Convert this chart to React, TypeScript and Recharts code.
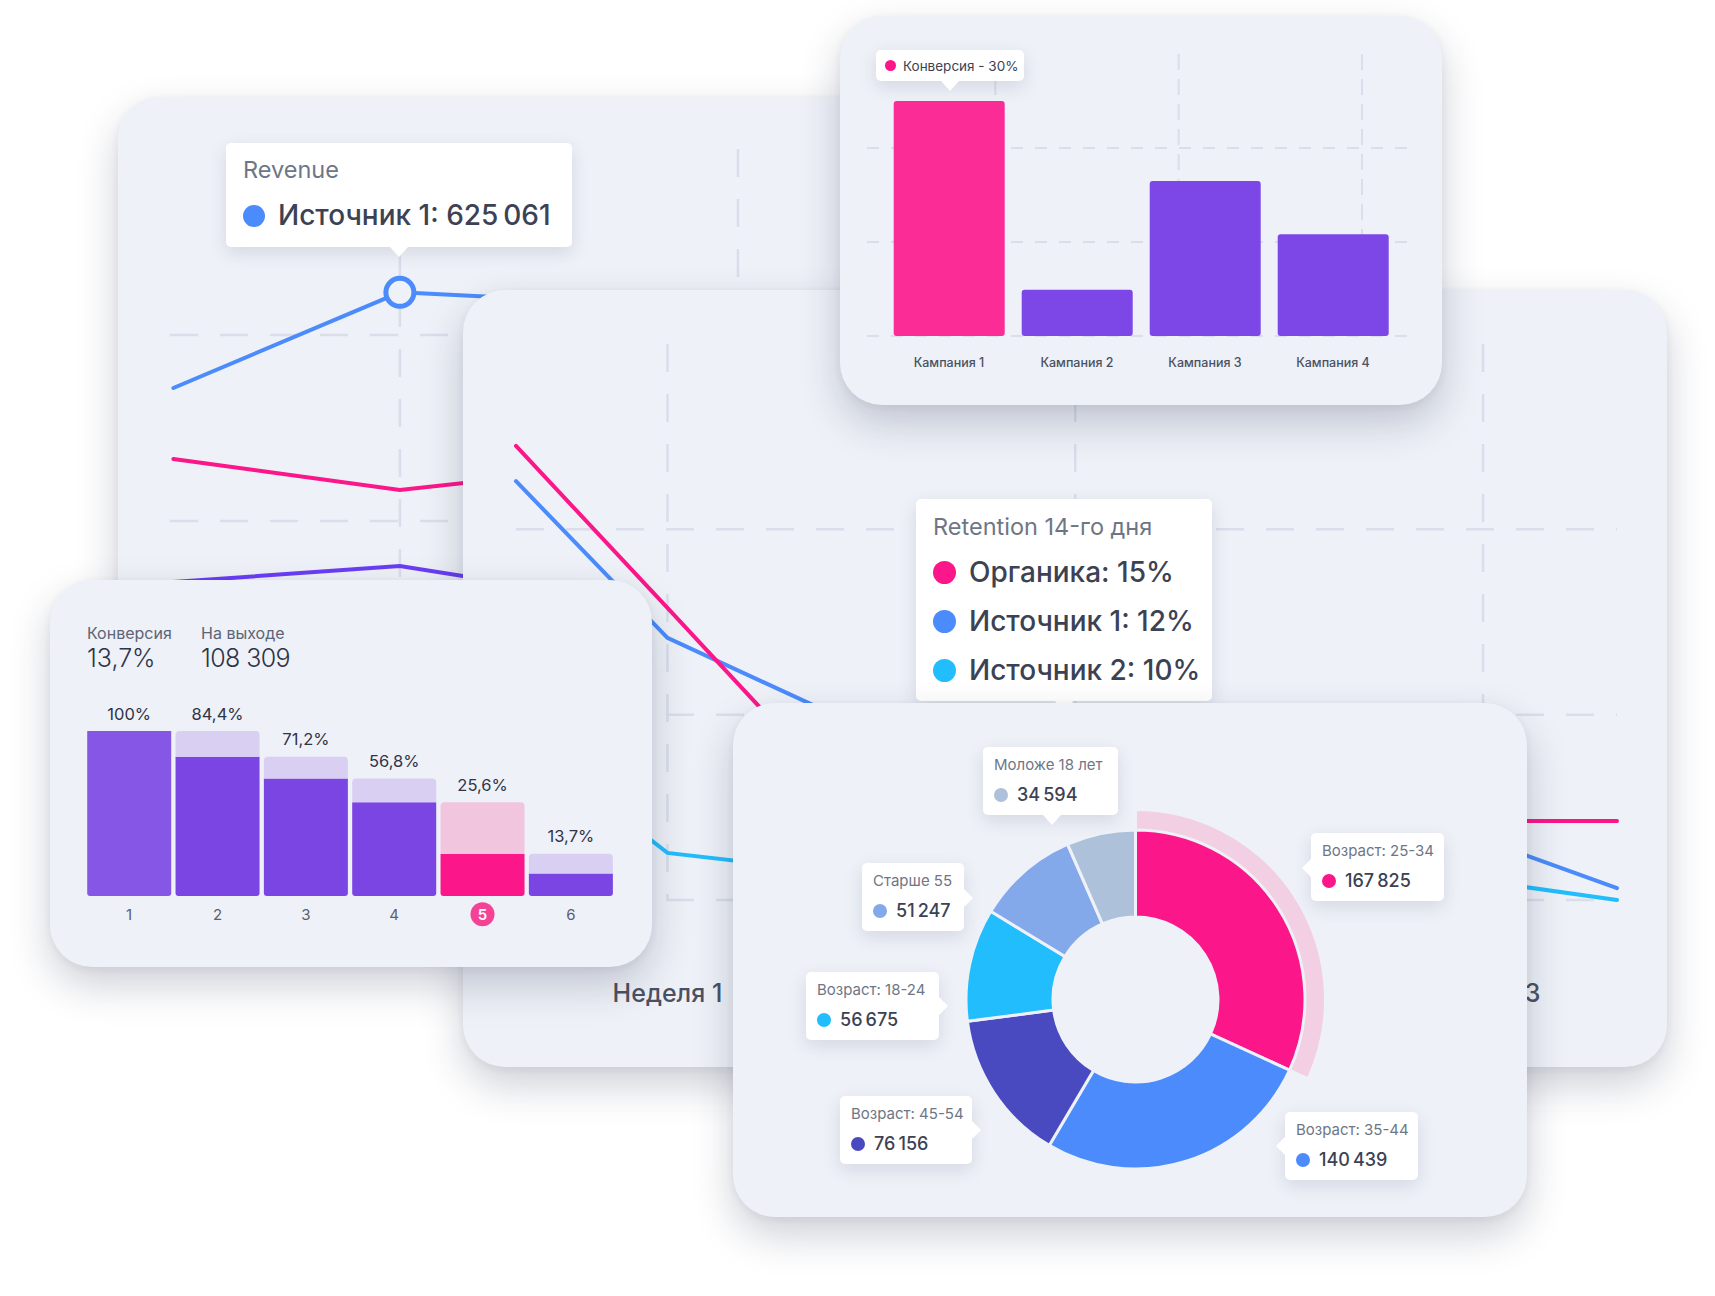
import React from "react"
import {
  LineChart,
  Line,
  BarChart,
  Bar,
  PieChart,
  Pie,
  Cell,
  XAxis,
  YAxis,
  CartesianGrid,
  LabelList,
} from "recharts"

// Revenue (back card): period -> revenue
const revenuePeriods = [0.33, 1, 2]
const revenueSource1 = [501600, 625061, 603500]
const revenueOrganic = [410000, 370000, 417700]
const revenueSource2 = [251300, 271900, 202600]
const revenueGrid = [330000, 570000]
const revenueGridX = [1, 2]

// Retention (middle card): day -> %
const weekDays = [7, 14, 21]
const weekLabels = ["Неделя 1", "Неделя 2", "Неделя 3"]
const organicDays = [4.4, 7, 9, 14, 21, 23.3]
const organicRetention = [22.25, 17.88, 14.5, 15, 12.13, 12.13]
const sourceDays = [4.4, 7, 14, 21, 23.3]
const source1Retention = [21.3, 17.07, 12, 11.62, 10.32]
const source2Retention = [14.45, 11.27, 10, 10.51, 10.0]
const retentionGrid = [10, 15, 20]

// Campaign conversion (top card)
const campaigns = ["Кампания 1", "Кампания 2", "Кампания 3", "Кампания 4"]
const campaignConversion = [30, 5.9, 19.8, 13]
const campaignGrid = [0, 12, 24]
const campaignGridX = [0.7, 1.7, 2.7]

// Funnel
const funnelSteps = ["1", "2", "3", "4", "5", "6"]
const funnelShare = [100, 84.4, 71.2, 56.8, 25.6, 13.7]
const funnelHot = "5"

// Audience by age
const ageGroups = ["Возраст: 25-34", "Возраст: 35-44", "Возраст: 45-54", "Возраст: 18-24", "Старше 55", "Моложе 18 лет"]
const ageVisitors = [167825, 140439, 76156, 56675, 51247, 34594]

const CARD_BG = "#eef1f7"
const GRID = "#d9deea"
const TEXT = "#3c4254"
const MUTED = "#6e7686"
const PINK = "#fb1689"
const BLUE = "#4b8bfb"
const CYAN = "#22bdfd"
const VIOLET = "#6a3df5"
const PURPLE = "#7b45e3"
const LILAC = "#d9cff2"
const PINK_LIGHT = "#f2c5df"
const AGE_COLORS = [PINK, BLUE, "#4a4ac0", CYAN, "#84a9eb", "#adc2da"]

const A = { x: 118, y: 97, w: 1182, h: 803 }
const B = { x: 463, y: 290, w: 1204, h: 777 }
const C = { x: 840, y: 16, w: 602, h: 389 }
const D = { x: 50, y: 580, w: 602, h: 387 }
const E = { x: 733, y: 703, w: 794, h: 514 }

const thin = (n: number) => String(n).replace(/\B(?=(\d{3})+(?!\d))/g, "\u2009")

function Card({ box, children }: any) {
  return (
    <div
      style={{
        position: "absolute",
        left: box.x,
        top: box.y,
        width: box.w,
        height: box.h,
        borderRadius: 42,
        background: CARD_BG,
        boxShadow: "0 18px 40px rgba(30,40,75,0.22), 0 2px 8px rgba(30,40,75,0.06)",
        overflow: "hidden",
      }}
    >
      {children}
    </div>
  )
}

function Bubble({ left, top, width, height, pointer, at, children }: any) {
  const tri: React.CSSProperties = { position: "absolute", width: 0, height: 0 }
  if (pointer === "down")
    Object.assign(tri, { left: at - 9, top: height, borderLeft: "9px solid transparent", borderRight: "9px solid transparent", borderTop: "10px solid #fff" })
  if (pointer === "left")
    Object.assign(tri, { left: -9, top: at - 9, borderTop: "9px solid transparent", borderBottom: "9px solid transparent", borderRight: "9px solid #fff" })
  if (pointer === "right")
    Object.assign(tri, { left: width, top: at - 9, borderTop: "9px solid transparent", borderBottom: "9px solid transparent", borderLeft: "9px solid #fff" })
  return (
    <div
      style={{
        position: "absolute",
        left,
        top,
        width,
        height,
        background: "#fff",
        borderRadius: 5,
        boxShadow: "0 6px 18px rgba(40,50,90,0.13)",
      }}
    >
      <div style={tri} />
      {children}
    </div>
  )
}

function Txt({ left, center, size, lh, color = TEXT, weight = 400, spacing = 0, children }: any) {
  return (
    <div
      style={{
        position: "absolute",
        left,
        top: center - lh / 2,
        fontSize: size,
        lineHeight: `${lh}px`,
        color,
        fontWeight: weight,
        letterSpacing: spacing,
        whiteSpace: "nowrap",
      }}
    >
      {children}
    </div>
  )
}

function Dot({ cx, cy, r, color }: any) {
  return <div style={{ position: "absolute", left: cx - r, top: cy - r, width: r * 2, height: r * 2, borderRadius: r, background: color }} />
}

// ---------- Revenue ----------
function RevenueCard() {
  const data = revenuePeriods.map((p, i) => ({
    p,
    s1: revenueSource1[i],
    org: revenueOrganic[i],
    s2: revenueSource2[i],
  }))
  return (
    <Card box={A}>
      <LineChart width={A.w} height={A.h} data={data} margin={{ top: 52, right: 224, bottom: 193, left: 52 }}>
        <XAxis dataKey="p" type="number" domain={[0.32, 3]} hide />
        <YAxis type="number" domain={[90000, 810000]} hide />
        <CartesianGrid
          horizontalValues={revenueGrid}
          verticalValues={revenueGridX}
          stroke={GRID}
          strokeWidth={2.5}
          strokeDasharray="28 22"
        />
        <Line dataKey="s2" stroke={VIOLET} strokeWidth={4} strokeLinecap="round" dot={false} isAnimationActive={false} />
        <Line dataKey="org" stroke={PINK} strokeWidth={4} strokeLinecap="round" dot={false} isAnimationActive={false} />
        <Line
          dataKey="s1"
          stroke={BLUE}
          strokeWidth={4}
          strokeLinecap="round"
          isAnimationActive={false}
          dot={(p: any) =>
            p.index === 1 ? (
              <circle key="active" cx={p.cx} cy={p.cy} r={14} fill={CARD_BG} stroke={BLUE} strokeWidth={5} />
            ) : (
              <g key={p.index} />
            )
          }
        />
      </LineChart>
      <Bubble left={226 - A.x} top={143 - A.y} width={346} height={104} pointer="down" at={399 - 226}>
        <Txt left={17} center={27} size={23.5} lh={28} color={MUTED}>Revenue</Txt>
        <Dot cx={28} cy={73} r={11} color={BLUE} />
        <Txt left={52} center={72} size={28} lh={34} weight={500}>
          Источник 1: {thin(625061)}
        </Txt>
      </Bubble>
    </Card>
  )
}

// ---------- Retention ----------
const WeekTick = ({ x, y, payload }: any) => (
  <text x={x} y={y + 101.5} textAnchor="middle" fontSize={25} fontWeight={500} fill="#4a5163" fontFamily="Inter">
    {weekLabels[weekDays.indexOf(payload.value)]}
  </text>
)

function RetentionCard() {
  const organic = organicDays.map((day, i) => ({ day, v: organicRetention[i] }))
  const s1 = sourceDays.map((day, i) => ({ day, v: source1Retention[i] }))
  const s2 = sourceDays.map((day, i) => ({ day, v: source2Retention[i] }))
  return (
    <Card box={B}>
      <LineChart width={B.w} height={B.h} margin={{ top: 54, right: 50, bottom: 137, left: 53 }}>
        <XAxis
          dataKey="day"
          type="number"
          domain={[4.4, 23.3]}
          ticks={weekDays}
          axisLine={false}
          tickLine={false}
          tickSize={0}
          tickMargin={0}
          height={30}
          tick={<WeekTick />}
        />
        <YAxis type="number" domain={[10, 25]} hide />
        <CartesianGrid
          horizontalValues={retentionGrid}
          verticalValues={weekDays}
          stroke={GRID}
          strokeWidth={2.5}
          strokeDasharray="28 22"
        />
        <Line data={s2} dataKey="v" stroke={CYAN} strokeWidth={4} strokeLinecap="round" dot={false} isAnimationActive={false} />
        <Line data={s1} dataKey="v" stroke={BLUE} strokeWidth={4} strokeLinecap="round" dot={false} isAnimationActive={false} />
        <Line data={organic} dataKey="v" stroke={PINK} strokeWidth={4} strokeLinecap="round" dot={false} isAnimationActive={false} />
      </LineChart>
      <Bubble left={916 - B.x} top={499 - B.y} width={296} height={202} pointer="down" at={1064 - 916}>
        <Txt left={17} center={28} size={23.5} lh={28} color={MUTED}>Retention 14-го дня</Txt>
        <Dot cx={28.5} cy={73} r={11.5} color={PINK} />
        <Txt left={53} center={73} size={28} lh={34} weight={500}>Органика: 15%</Txt>
        <Dot cx={28.5} cy={122} r={11.5} color={BLUE} />
        <Txt left={53} center={122} size={28} lh={34} weight={500}>Источник 1: 12%</Txt>
        <Dot cx={28.5} cy={171} r={11.5} color={CYAN} />
        <Txt left={53} center={171} size={28} lh={34} weight={500}>Источник 2: 10%</Txt>
      </Bubble>
    </Card>
  )
}

// ---------- Campaigns ----------
const CampaignTick = ({ x, y, payload }: any) => (
  <text x={x} y={y + 31.3} textAnchor="middle" fontSize={12.5} fontWeight={500} fill="#4a5163" fontFamily="Inter">
    {payload.value}
  </text>
)

function CampaignCard() {
  const data = campaigns.map((name, i) => ({ name, conversion: campaignConversion[i] }))
  return (
    <Card box={C}>
      <BarChart width={C.w} height={C.h} data={data} margin={{ top: 38, right: 25, bottom: 39, left: 27 }} barCategoryGap="6.8%">
        <XAxis
          dataKey="name"
          padding={{ left: 18, right: 20 }}
          axisLine={false}
          tickLine={false}
          tickSize={0}
          tickMargin={0}
          height={30}
          interval={0}
          tick={<CampaignTick />}
        />
        <XAxis xAxisId="grid" type="number" domain={[0, 3.3]} hide />
        <YAxis type="number" domain={[0, 36]} hide />
        <CartesianGrid vertical={false} horizontalValues={campaignGrid} stroke={GRID} strokeWidth={2} strokeDasharray="12 12" />
        <CartesianGrid
          horizontal={false}
          xAxisId="grid"
          verticalValues={campaignGridX}
          stroke={GRID}
          strokeWidth={2}
          strokeDasharray="16 9"
        />
        <Bar dataKey="conversion" radius={3} isAnimationActive={false}>
          {data.map((d, i) => (
            <Cell key={d.name} fill={i === 0 ? "#fb2c96" : "#7d47e8"} />
          ))}
        </Bar>
      </BarChart>
      <Bubble left={876 - C.x} top={50 - C.y} width={148} height={31} pointer="down" at={950 - 876}>
        <Dot cx={14} cy={15.5} r={5.5} color={PINK} />
        <Txt left={27} center={15.8} size={13.5} lh={20}>Конверсия - 30%</Txt>
      </Bubble>
    </Card>
  )
}

// ---------- Funnel ----------
const FunnelTick = ({ x, y, payload }: any) => {
  const hot = payload.value === funnelHot
  return (
    <g>
      {hot && <circle cx={x} cy={y + 18.3} r={12} fill="#f44395" />}
      <text
        x={x}
        y={y + 24}
        textAnchor="middle"
        fontSize={15}
        fontWeight={hot ? 600 : 400}
        fill={hot ? "#fff" : "#5a6072"}
        fontFamily="Inter"
      >
        {payload.value}
      </text>
    </g>
  )
}

// label sits above the whole stack (previous step's share)
const FunnelLabel = (props: any) => {
  const { x, y, width, height, index } = props
  const share = funnelShare[index]
  const prev = index === 0 ? funnelShare[0] : funnelShare[index - 1]
  const top = y - (height * (prev - share)) / share
  return (
    <text x={x + width / 2} y={top - 11.5} textAnchor="middle" fontSize={16.5} fill="#2f3447" fontFamily="Inter">
      {String(share).replace(".", ",")}%
    </text>
  )
}

function FunnelCard() {
  const data = funnelSteps.map((step, i) => ({
    step,
    share: funnelShare[i],
    lost: (i === 0 ? funnelShare[0] : funnelShare[i - 1]) - funnelShare[i],
  }))
  return (
    <Card box={D}>
      <Txt left={37} center={53} size={16} lh={20} color="#5d6475">Конверсия</Txt>
      <Txt left={37} center={78} size={25} lh={30} color="#2f3447" weight={300}>13,7%</Txt>
      <Txt left={151} center={53} size={16} lh={20} color="#5d6475">На выходе</Txt>
      <Txt left={151} center={78} size={25} lh={30} color="#2f3447" weight={300} spacing={-0.6}>108 309</Txt>
      <div style={{ position: "absolute", left: 0, top: 0 }}>
        <BarChart width={D.w} height={D.h} data={data} margin={{ top: 151, right: 37, bottom: 41, left: 35 }} barCategoryGap="2.5%">
          <XAxis
            dataKey="step"
            axisLine={false}
            tickLine={false}
            tickSize={0}
            tickMargin={0}
            height={30}
            interval={0}
            tick={<FunnelTick />}
          />
          <YAxis type="number" domain={[0, 100]} hide />
          <Bar dataKey="share" stackId="f" radius={[0, 0, 3, 3]} isAnimationActive={false}>
            {data.map((d, i) => (
              <Cell key={d.step} fill={d.step === funnelHot ? PINK : i === 0 ? "#8656e6" : PURPLE} />
            ))}
            <LabelList dataKey="share" content={<FunnelLabel />} />
          </Bar>
          <Bar dataKey="lost" stackId="f" radius={[4, 4, 0, 0]} isAnimationActive={false}>
            {data.map((d) => (
              <Cell key={d.step} fill={d.step === funnelHot ? PINK_LIGHT : LILAC} />
            ))}
          </Bar>
        </BarChart>
      </div>
    </Card>
  )
}

// ---------- Age donut ----------
const ageCallouts = [
  { left: 578, top: 130, width: 133, pointer: "left", at: 35 },
  { left: 552, top: 409, width: 133, pointer: "left", at: 34 },
  { left: 107, top: 393, width: 132, pointer: "right", at: 34 },
  { left: 73, top: 269, width: 133, pointer: "right", at: 34 },
  { left: 129, top: 160, width: 102, pointer: "right", at: 35 },
  { left: 250, top: 44, width: 135, pointer: "down", at: 69 },
]

function AgeCard() {
  const data = ageGroups.map((name, i) => ({ name, visitors: ageVisitors[i] }))
  return (
    <Card box={E}>
      <div style={{ position: "absolute", left: 0, top: 0 }}>
        <PieChart width={E.w} height={E.h} margin={{ top: 0, right: 0, bottom: 0, left: 0 }}>
          <Pie
            data={data}
            dataKey="visitors"
            cx={402.5}
            cy={296.5}
            innerRadius={169}
            outerRadius={190}
            startAngle={90}
            endAngle={-270}
            isAnimationActive={false}
          >
            {data.map((d, i) => (
              <Cell key={d.name} fill={i === 0 ? "#f2cfe3" : "transparent"} stroke={i === 0 ? CARD_BG : "none"} strokeWidth={3} />
            ))}
          </Pie>
          <Pie
            data={data}
            dataKey="visitors"
            cx={402.5}
            cy={296.5}
            innerRadius={82.5}
            outerRadius={169.5}
            startAngle={90}
            endAngle={-270}
            isAnimationActive={false}
          >
            {data.map((d, i) => (
              <Cell key={d.name} fill={AGE_COLORS[i]} stroke={CARD_BG} strokeWidth={3} />
            ))}
          </Pie>
        </PieChart>
      </div>
      {ageCallouts.map((c, i) => (
        <Bubble key={ageGroups[i]} left={c.left} top={c.top} width={c.width} height={68} pointer={c.pointer} at={c.at}>
          <Txt left={11} center={18} size={15} lh={18} color={MUTED}>{ageGroups[i]}</Txt>
          <Dot cx={18} cy={48} r={7} color={AGE_COLORS[i]} />
          <Txt left={34} center={48} size={18} lh={22} weight={500}>{thin(ageVisitors[i])}</Txt>
        </Bubble>
      ))}
    </Card>
  )
}

export default function App() {
  return (
    <div
      style={{
        position: "absolute",
        left: 0,
        top: 0,
        width: 1715,
        height: 1296,
        background: "#fff",
        overflow: "hidden",
        fontFamily: "Inter, sans-serif",
      }}
    >
      <RevenueCard />
      <RetentionCard />
      <CampaignCard />
      <FunnelCard />
      <AgeCard />
    </div>
  )
}
